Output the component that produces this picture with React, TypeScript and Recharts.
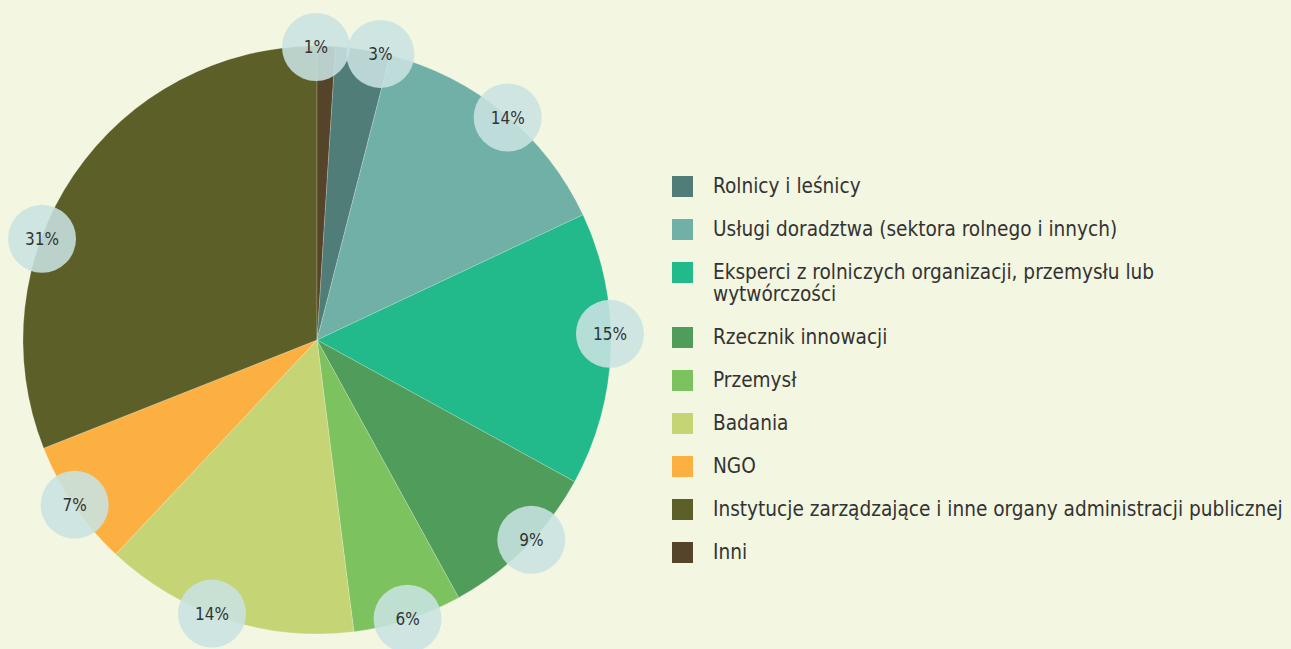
import { PieChart, Pie, Cell, Legend } from "recharts";

// Udział poszczególnych grup (w %)
const categories = [
  "Rolnicy i leśnicy",
  "Usługi doradztwa (sektora rolnego i innych)",
  "Eksperci z rolniczych organizacji, przemysłu lub\nwytwórczości",
  "Rzecznik innowacji",
  "Przemysł",
  "Badania",
  "NGO",
  "Instytucje zarządzające i inne organy administracji publicznej",
  "Inni",
];
const shares = [3, 14, 15, 9, 6, 14, 7, 31, 1];
const colors = [
  "#507d77",
  "#70b0a6",
  "#22b98b",
  "#4f9c5b",
  "#7cc25f",
  "#c5d474",
  "#fdb042",
  "#5d5f28",
  "#55432a",
];
// small angular shifts (deg, clockwise) so the bubbles don't collide
const labelNudge = [3.5, 1, -3, -2, 0, 3, 0, -14, -2];

const BG = "#f3f6e0";
const FONT = "'DejaVu Sans Condensed', 'DejaVu Sans', sans-serif";
const RAD = Math.PI / 180;

const data = categories.map((name, i) => ({ name, value: shares[i] }));

function renderBubble(props: any) {
  const { cx, cy, midAngle, outerRadius, index, value } = props;
  const a = (midAngle - labelNudge[index]) * RAD;
  const r = outerRadius - 1;
  const x = cx + r * Math.cos(-a);
  const y = cy + r * Math.sin(-a);
  return (
    <g key={"lbl-" + index}>
      <circle cx={x} cy={y} r={34} fill="rgb(200,226,225)" fillOpacity={0.88} />
      <text
        x={x}
        y={y}
        textAnchor="middle"
        dominantBaseline="central"
        fill="#333"
        fontSize={17}
        fontFamily={FONT}
      >
        {value}%
      </text>
    </g>
  );
}

// legend in data order (recharts would sort it by name otherwise)
function renderLegend() {
  return (
    <div style={{ fontFamily: FONT, fontSize: 20.6, color: "#333", lineHeight: "22px" }}>
      {categories.map((name, i) => (
        <div key={name} style={{ display: "flex", alignItems: "flex-start", marginBottom: 21 }}>
          <span
            style={{
              display: "inline-block",
              width: 21,
              height: 21,
              marginTop: 0.5,
              marginRight: 20,
              background: colors[i],
              flex: "none",
            }}
          />
          <span style={{ whiteSpace: "pre-line" }}>{name}</span>
        </div>
      ))}
    </div>
  );
}

export default function App() {
  return (
    <div
      style={{
        position: "absolute",
        left: 0,
        top: 0,
        width: 1291,
        height: 649,
        background: BG,
        overflow: "hidden",
      }}
    >
      <PieChart width={1291} height={649} margin={{ top: 0, right: 0, bottom: 0, left: 0 }}>
        <Pie
          data={data}
          dataKey="value"
          nameKey="name"
          cx={317}
          cy={340}
          outerRadius={294}
          startAngle={86.4}
          endAngle={-273.6}
          stroke="rgba(255,255,255,0.35)"
          strokeWidth={0.6}
          label={renderBubble}
          labelLine={false}
          isAnimationActive={false}
        >
          {data.map((d, i) => (
            <Cell key={d.name} fill={colors[i]} />
          ))}
        </Pie>
        <Legend
          layout="vertical"
          content={renderLegend}
          wrapperStyle={{ left: 672, top: 175, width: 619 }}
        />
      </PieChart>
    </div>
  );
}
